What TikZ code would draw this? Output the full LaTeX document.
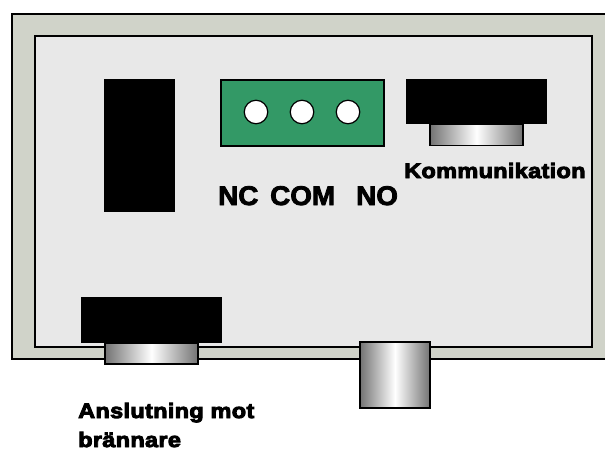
\documentclass[tikz,border=0pt]{standalone}
\usepackage{fontspec}
\setmainfont{Liberation Sans}[Ligatures=TeX]
\newfontfamily\blackfont{Liberation Sans Bold}[FakeBold=4.5,FakeStretch=1.13,LetterSpace=1.5]
\newfontfamily\heavyfont{Liberation Sans Bold}[FakeBold=3,FakeStretch=1.03]
\definecolor{casecol}{HTML}{D0D3C9}
\definecolor{panelcol}{HTML}{E8E8E8}
\definecolor{termcol}{HTML}{339966}
\tikzset{
  x=1pt,y=-1pt,
  metal/.style={draw=black,line width=1.2pt,left color=black!55,right color=black!55,middle color=white},
  blackbox/.style={fill=black,draw=none},
  hole/.style={circle,draw=black,line width=1.2pt,fill=white,minimum size=23.5pt,inner sep=0pt},
  lblbig/.style={anchor=base west,inner sep=0pt,font=\heavyfont\fontsize{27}{27}\selectfont},
  lblsmall/.style={anchor=base west,inner sep=0pt,font=\blackfont\fontsize{20.8}{20.8}\selectfont},
}
\begin{document}
\begin{tikzpicture}
\useasboundingbox (0,0) rectangle (605,450);
% case and panel
\path[fill=casecol] (12,14) rectangle (605,359);
\draw[line width=1.3pt,black] (605,14) -- (12,14) -- (12,359) -- (605,359);
\draw[line width=1.2pt,fill=panelcol] (35,36) rectangle (592,347);
% left block
\path[blackbox] (104,79) rectangle (175,212);
% terminal
\draw[line width=1.2pt,fill=termcol] (221,80) rectangle (384,146);
\node[hole] (h1) at (256,112) {};
\node[hole] (h2) at (302,112) {};
\node[hole] (h3) at (348,112) {};
% comm connector
\draw[metal] (430,124) rectangle (523,145.5);
\path[blackbox] (406,79) rectangle (547,124);
% burner connector
\draw[metal] (105,343) rectangle (198,364);
\path[blackbox] (81,297) rectangle (222,343);
% lower plug
\draw[metal] (360,342) rectangle (430,408);
% labels
\node[lblbig] (nc) at (218,205) {NC};
\node[lblbig] (com) at (270,205) {COM};
\node[lblbig] (no) at (356,205) {NO};
\node[lblsmall] (komm) at (404,178) {Kommunikation};
\node[lblsmall] (ans) at (78,418) {Anslutning mot};
\node[lblsmall] (bra) at (78,447) {brännare};
\end{tikzpicture}
\end{document}
